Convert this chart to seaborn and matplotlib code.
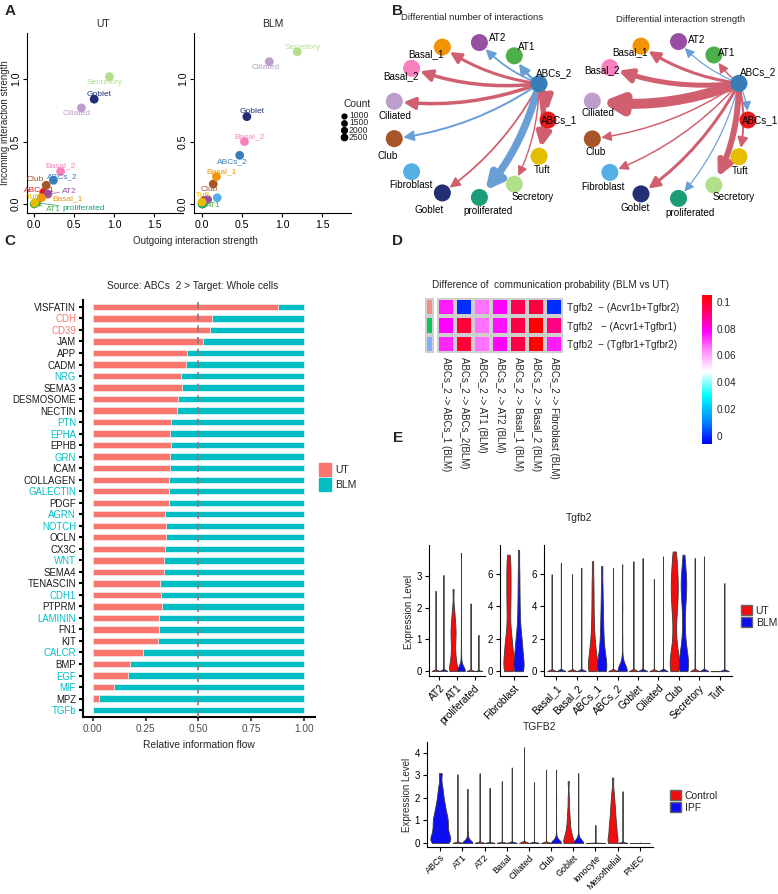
import numpy as np
import pandas as pd
import matplotlib
matplotlib.use("Agg")
import matplotlib.pyplot as plt
import seaborn as sns
from matplotlib.colors import LinearSegmentedColormap, ListedColormap
from matplotlib.patches import Patch, FancyArrowPatch

W, H = 778, 894
sns.set_style("ticks")
plt.rcParams["font.family"] = ["Liberation Sans", "DejaVu Sans"]

# ---------------- data ----------------
cell_types = ['ABCs_1', 'ABCs_2', 'AT1', 'AT2', 'Basal_1', 'Basal_2', 'Ciliated', 'Club',
              'Fibroblast', 'Goblet', 'proliferated', 'Secretory', 'Tuft']
cell_colors = ['#E41A1C', '#377EB8', '#4DAF4A', '#984EA3', '#F29403', '#F781BF', '#BC9DCC',
               '#A65628', '#54B0E4', '#222F75', '#1B9E77', '#B2DF8A', '#E3BE00']

# Panel A
ut_cells = ['AT1', 'proliferated', 'ABCs_1', 'AT2', 'Basal_1', 'Tuft', 'Club', 'ABCs_2',
            'Basal_2', 'Ciliated', 'Goblet', 'Secretory']
ut_outgoing = [0.0, 0.03, 0.12, 0.17, 0.09, 0.01, 0.15, 0.24, 0.33, 0.59, 0.75, 0.94]
ut_incoming = [0.0, 0.01, 0.09, 0.08, 0.05, 0.01, 0.15, 0.19, 0.26, 0.77, 0.84, 1.02]
blm_cells = ['AT1', 'proliferated', 'ABCs_1', 'AT2', 'Fibroblast', 'Tuft', 'Club', 'Basal_1',
             'ABCs_2', 'Basal_2', 'Goblet', 'Ciliated', 'Secretory']
blm_outgoing = [0.0, 0.01, 0.03, 0.07, 0.19, 0.0, 0.14, 0.18, 0.47, 0.53, 0.56, 0.84, 1.19]
blm_incoming = [0.0, 0.0, 0.03, 0.035, 0.05, 0.015, 0.16, 0.22, 0.39, 0.50, 0.70, 1.14, 1.22]

# Panel B (ABCs_2 -> each cell type; + increased in BLM, - decreased)
diff_count = [55, 0, -25, -18, 30, 35, 35, -20, 0, 18, -75, 14, 55]
diff_strength = [-0.012, 0, 0.015, -0.012, 0.03, 0.05, 0.10, 0.015, 0.015, 0.03, -0.012, 0.06, 0.02]
count_legend = ['1000', '1500', '2000', '2500']

# Panel C
pathways = ['VISFATIN', 'CDH', 'CD39', 'JAM', 'APP', 'CADM', 'NRG', 'SEMA3', 'DESMOSOME', 'NECTIN',
            'PTN', 'EPHA', 'EPHB', 'GRN', 'ICAM', 'COLLAGEN', 'GALECTIN', 'PDGF', 'AGRN', 'NOTCH',
            'OCLN', 'CX3C', 'WNT', 'SEMA4', 'TENASCIN', 'CDH1', 'PTPRM', 'LAMININ', 'FN1', 'KIT',
            'CALCR', 'BMP', 'EGF', 'MIF', 'MPZ', 'TGFb']
ut_flow = [0.877, 0.562, 0.554, 0.521, 0.447, 0.441, 0.416, 0.420, 0.403, 0.400,
           0.370, 0.365, 0.369, 0.367, 0.367, 0.361, 0.359, 0.362, 0.342, 0.346,
           0.346, 0.340, 0.335, 0.337, 0.318, 0.324, 0.326, 0.313, 0.313, 0.309,
           0.239, 0.178, 0.165, 0.099, 0.031, 0.0]
ut_enriched = ['CDH', 'CD39']
blm_enriched = ['NRG', 'PTN', 'EPHA', 'GRN', 'GALECTIN', 'AGRN', 'NOTCH', 'WNT', 'CDH1',
                'LAMININ', 'CALCR', 'EGF', 'MIF', 'TGFb']

# Panel D
lr_pairs = ['Tgfb2  \u2212 (Acvr1b+Tgfbr2)', 'Tgfb2   \u2212 (Acvr1+Tgfbr1)', 'Tgfb2  \u2212 (Tgfbr1+Tgfbr2)']
lr_groups = [0, 1, 2]
sr_pairs = ['ABCs_2 -> ABCs_1 (BLM)', 'ABCs_2 -> ABCs_2(BLM)', 'ABCs_2 -> AT1 (BLM)',
            'ABCs_2 -> AT2 (BLM)', 'ABCs_2 -> Basal_1 (BLM)', 'ABCs_2 -> Basal_2 (BLM)',
            'ABCs_2 -> Fibroblast (BLM)']
prob_row1 = [0.075, 0.0, 0.066, 0.078, 0.095, 0.097, 0.0]
prob_row2 = [0.078, 0.098, 0.066, 0.076, 0.096, 0.105, 0.090]
prob_row3 = [0.074, 0.098, 0.066, 0.078, 0.096, 0.105, 0.075]

# Panel E (mouse Tgfb2): zero-count + non-zero expression values per violin
e1_cell = ['AT2', 'AT2', 'AT1', 'AT1', 'proliferated', 'proliferated']
e1_cond = ['UT', 'BLM', 'UT', 'BLM', 'UT', 'BLM']
e1_zeros = [400, 400, 4, 40, 400, 400]
e1_values = [[0.8, 1.7, 2.55], [1.0, 2.1, 3.05],
             [0.05, 0.1, 0.2, 0.3, 0.4, 0.5, 0.6, 0.75, 0.9, 1.0, 1.1, 1.2, 1.3, 1.4, 1.5, 1.65, 1.8, 2.0, 2.6],
             [0.05, 0.1, 0.15, 0.2, 0.25, 0.3, 0.4, 0.5, 0.7, 0.9, 1.2, 1.6, 3.75],
             [0.7, 1.4, 2.15], [0.4, 0.8, 1.15]]
e2_cell = ['Fibroblast', 'Fibroblast']
e2_cond = ['UT', 'BLM']
e2_zeros = [3, 3]
e2_values = [[0.1, 0.2, 0.3, 0.5, 0.7, 0.9, 1.1, 1.3, 1.5, 1.7, 1.9, 2.1, 2.5, 3.0, 3.5, 4.0, 4.4, 4.8,
              5.2, 5.6, 6.0, 6.4, 6.8, 7.2],
             [0.1, 0.2, 0.3, 0.4, 0.6, 0.8, 1.0, 1.2, 1.4, 1.6, 1.8, 2.0, 2.3, 2.7, 3.2, 3.8, 4.5, 5.3, 6.2, 7.5]]
e3_order = ['Basal_1', 'Basal_2', 'ABCs_1', 'ABCs_2', 'Goblet', 'Ciliated', 'Club', 'Secretory', 'Tuft']
e3_cell = ['Basal_1', 'Basal_1', 'Basal_2', 'Basal_2', 'ABCs_1', 'ABCs_1', 'ABCs_2', 'ABCs_2',
           'Goblet', 'Goblet', 'Ciliated', 'Ciliated', 'Club', 'Club', 'Secretory', 'Secretory', 'Tuft', 'Tuft']
e3_cond = ['UT', 'BLM'] * 9
e3_zeros = [400, 400, 400, 400, 3, 3, 400, 20, 400, 400, 400, 400, 2, 3, 400, 400, 400, 400]
e3_values = [[2.0, 4.0, 6.0], [2.2, 4.5, 6.7], [2.0, 4.0, 6.0], [2.1, 4.3, 6.4],
             [0.1, 0.2, 0.4, 0.6, 0.8, 1.0, 1.2, 1.5, 1.8, 2.2, 2.7, 3.3, 4.0, 4.8, 5.6, 6.8],
             [0.1, 0.2, 0.4, 0.6, 0.8, 1.0, 1.3, 1.6, 2.0, 2.5, 3.0, 3.6, 4.3, 5.2, 6.5],
             [2.1, 4.3, 6.4],
             [0.05, 0.1, 0.15, 0.2, 0.25, 0.3, 0.4, 0.5, 0.7, 1.0, 2.0, 4.0, 6.6],
             [2.3, 4.5, 6.8], [2.3, 4.7, 7.0], [1.9, 3.8, 5.7], [2.4, 4.7, 7.1],
             [0.1, 0.3, 0.5, 0.7, 0.9, 1.2, 1.6, 2.2, 2.9, 3.5, 3.9, 4.3, 4.6, 4.9, 5.2, 5.5, 5.8, 6.1, 6.5, 7.0, 7.4],
             [0.1, 0.3, 0.5, 0.7, 0.9, 1.1, 1.4, 1.8, 2.4, 3.2, 3.9, 4.4, 4.8, 5.1, 5.4, 5.7, 6.0, 6.4, 7.2],
             [2.3, 4.7, 7.0], [2.4, 4.7, 7.1], [0.03], [1.8, 3.6, 5.45]]

# Panel E (human TGFB2)
e4_order = ['ABCs', 'AT1', 'AT2', 'Basal', 'Ciliated', 'Club', 'Goblet', 'Ionocyte', 'Mesothelial', 'PNEC']
e4_cell = ['AT1', 'AT1', 'AT2', 'AT2', 'Basal', 'Basal', 'Ciliated', 'Ciliated', 'Club', 'Club',
           'Goblet', 'Goblet', 'Mesothelial', 'Mesothelial']
e4_cond = ['Control', 'IPF'] * 7
e4_zeros = [400, 30, 400, 400, 400, 400, 400, 400, 400, 40, 5, 30, 3, 400]
e4_values = [[1.0, 2.0, 3.05], [0.05, 0.1, 0.15, 0.2, 0.25, 0.3, 0.4, 0.5, 0.8, 1.5, 2.4],
             [1.0, 2.1, 3.1], [0.8, 1.6, 2.45], [0.9, 1.8, 2.75], [1.1, 2.2, 3.35],
             [1.4, 2.8, 4.25], [0.9, 1.8, 2.7], [1.1, 2.2, 3.25],
             [0.05, 0.1, 0.15, 0.2, 0.3, 0.4, 1.0, 2.0, 3.25],
             [0.05, 0.1, 0.2, 0.3, 0.4, 0.5, 0.6, 0.8, 1.0, 1.2, 1.5, 2.0, 2.75],
             [0.05, 0.1, 0.15, 0.2, 0.3, 0.4, 0.8, 1.5, 3.1],
             [0.05, 0.1, 0.2, 0.3, 0.4, 0.5, 0.6, 0.7, 0.8, 0.9, 1.0, 1.15, 1.3, 1.45, 1.6, 1.8, 2.0, 2.3, 2.9],
             [0.8, 1.5, 2.3]]
e4s_cell = ['ABCs', 'Ionocyte', 'PNEC']
e4s_cond = ['IPF', 'Control', 'Control']
e4s_zeros = [2, 400, 400]
e4s_values = [[0.05, 0.1, 0.15, 0.2, 0.3, 0.4, 0.5, 0.6, 0.7, 0.8, 0.9, 1.0, 1.1, 1.2, 1.3, 1.45, 1.6,
               1.75, 1.95, 2.2, 2.5, 3.1],
              [0.4, 0.8], [0.02]]

# ---------------- figure ----------------
fig = plt.figure(figsize=(W / 100, H / 100), dpi=100)


def box(x0, y0, x1, y1, **kw):
    return fig.add_axes([x0 / W, 1 - y1 / H, (x1 - x0) / W, (y1 - y0) / H], **kw)


def style_axes(ax, lw=0.8, fs=7):
    sns.despine(ax=ax)
    for s in ['left', 'bottom']:
        ax.spines[s].set_linewidth(lw)
        ax.spines[s].set_color('black')
    ax.tick_params(length=3, width=lw, labelsize=fs, colors='black', pad=2)


color_of = dict(zip(cell_types, cell_colors))

# ---- Panel A ----
ut_offs = {'Secretory': (-5, 6), 'Goblet': (5, -5), 'Ciliated': (-5, 6), 'Basal_2': (0, -6),
           'ABCs_2': (9, -4), 'Club': (-11, -6), 'ABCs_1': (-4, -3), 'AT2': (22, -3),
           'Basal_1': (26, 1), 'Tuft': (-2, -5), 'AT1': (19, 5), 'proliferated': (47, 6)}
blm_offs = {'Secretory': (5, -4), 'Ciliated': (-4, 6), 'Goblet': (5, -5), 'Basal_2': (5, -5),
            'ABCs_2': (-7, 6), 'Basal_1': (5, -5), 'Club': (-4, 5), 'Tuft': (1, -7), 'AT1': (11, 1)}
axUT = box(27, 33, 183, 213)
axBLM = box(194, 33, 351, 213)
for ax, cells, xo, yi, offs, xlim in [(axUT, ut_cells, ut_outgoing, ut_incoming, ut_offs, (-0.09, 1.86)),
                                       (axBLM, blm_cells, blm_outgoing, blm_incoming, blm_offs, (-0.1, 1.86))]:
    sns.scatterplot(x=xo, y=yi, hue=cells, palette=color_of, s=40, edgecolor='none',
                    legend=False, ax=ax, zorder=3)
    ax.set_xlim(*xlim)
    ax.set_ylim(-0.072, 1.37)
    ax.set_xticks([0, 0.5, 1.0, 1.5])
    ax.set_xticklabels(['0.0', '0.5', '1.0', '1.5'])
    ax.set_yticks([0, 0.5, 1.0])
    ax.set_yticklabels(['0.0', '0.5', '1.0'], rotation=90, va='center')
    ax.set_xlabel('')
    ax.set_ylabel('')
    style_axes(ax, lw=0.8, fs=7.6)
    ax.tick_params(axis='y', pad=1.5)
    for c, x, y in zip(cells, xo, yi):
        if c in offs:
            dx, dy = offs[c]
            ap = dict(arrowstyle='-', color=color_of[c], lw=0.5, shrinkA=0, shrinkB=2) if abs(dx) > 15 else None
            ax.annotate(c, (x, y), xytext=(dx * 0.72, -dy * 0.72), textcoords='offset points',
                        ha='center', va='center', fontsize=6, color=color_of[c], arrowprops=ap, zorder=4)

# ---- Panel B ----
node_angle = 2 * np.pi * np.arange(len(cell_types)) / len(cell_types)
left_offs = [(11, 0), (15, -11), (12, -9), (18, -5), (-16, 7), (-11, 8), (1, 15), (-7, 17), (-1, 13),
             (-13, 17), (9, 14), (18, 13), (3, 14)]
right_offs = [(12, 0), (19, -11), (13, -2), (18, -2), (-11, 6), (-8, 3), (6, 12), (3, 13), (-7, 15),
              (-6, 14), (12, 15), (20, 12), (1, 14)]


def draw_net(ax, cx, cy, r, diff, scale, offs):
    xs = cx + r * np.cos(node_angle)
    ys = cy - r * np.sin(node_angle)
    src = cell_types.index('ABCs_2')
    for j, v in enumerate(diff):
        if j == src or v == 0:
            continue
        lw_px = abs(v) * scale
        col = '#D0606F' if v > 0 else '#6A9FD6'
        arr = FancyArrowPatch((xs[src], ys[src]), (xs[j], ys[j]),
                              arrowstyle='-|>,head_length=0.5,head_width=0.25',
                              connectionstyle='arc3,rad=-0.12', shrinkA=5, shrinkB=6.5,
                              mutation_scale=10 + lw_px * 1.1, lw=lw_px * 0.72,
                              color=col, zorder=1)
        ax.add_patch(arr)
    ax.scatter(xs, ys, s=150, c=cell_colors, zorder=3, edgecolors='none')
    for i, c in enumerate(cell_types):
        ax.text(xs[i] + offs[i][0], ys[i] + offs[i][1], c, ha='center', va='center',
                fontsize=7.1, color='black', zorder=4, clip_on=False)


axN1 = box(365, 22, 572, 226)
axN1.set_xlim(365, 572)
axN1.set_ylim(226, 22)
axN1.axis('off')
draw_net(axN1, 470, 120, 78, diff_count, 0.1, left_offs)
axN2 = box(572, 22, 778, 226)
axN2.set_xlim(572, 778)
axN2.set_ylim(226, 22)
axN2.axis('off')
draw_net(axN2, 669, 120, 79, diff_strength, 100, right_offs)

# ---- Panel C ----
axC = box(83, 300, 315, 717)
sns.barplot(x=[1.0] * len(pathways), y=pathways, color='#00BFC4', width=0.55, saturation=1,
            edgecolor='#DDF3F3', linewidth=0.6, errorbar=None, orient='h', ax=axC)
sns.barplot(x=ut_flow, y=pathways, color='#F8766D', width=0.55, saturation=1,
            edgecolor='#FBE3E1', linewidth=0.6, errorbar=None, orient='h', ax=axC)
axC.axvline(0.5, color='#7F7F7F', ls=(0, (4, 3)), lw=1.2, zorder=5)
axC.set_xlim(-0.047, 1.052)
axC.set_ylim(35.6, -0.6)
axC.set_xticks([0, 0.25, 0.5, 0.75, 1.0])
axC.set_xticklabels(['0.00', '0.25', '0.50', '0.75', '1.00'])
axC.set_xlabel('Relative information flow', fontsize=7.4, labelpad=4)
axC.set_ylabel('')
style_axes(axC, lw=1.5, fs=7)
axC.tick_params(axis='x', colors='#4D4D4D', labelsize=7.2)
axC.tick_params(axis='y', labelsize=6.9)
for lab in axC.get_yticklabels():
    t = lab.get_text()
    lab.set_color('#F8766D' if t in ut_enriched else ('#00BFC4' if t in blm_enriched else '#1A1A1A'))
axC.legend(handles=[Patch(color='#F8766D'), Patch(color='#00BFC4')], labels=['UT', 'BLM'],
           loc='upper left', bbox_to_anchor=(315 / W, 1 - 459 / H), bbox_transform=fig.transFigure,
           frameon=False, fontsize=7.5, handlelength=1.1, handleheight=1.5, labelspacing=0.25,
           handletextpad=0.4, borderaxespad=0)

# ---- Panel D ----
vmin, vmax = -0.006, 0.105
stops = [(-0.006, '#0000FF'), (0.012, '#0090FF'), (0.03, '#00FFFF'), (0.048, '#FFFFFF'),
         (0.064, '#FF88FF'), (0.078, '#FF00FF'), (0.095, '#FF0050'), (0.105, '#FF0000')]
cmap = LinearSegmentedColormap.from_list('diffprob', [((v - vmin) / (vmax - vmin), c) for v, c in stops])
axD = box(437, 298, 563, 353)
axCb = box(702, 295, 712, 444)
probs = pd.DataFrame([prob_row1, prob_row2, prob_row3], index=lr_pairs, columns=sr_pairs)
sns.heatmap(probs, ax=axD, cmap=cmap, vmin=vmin, vmax=vmax, cbar_ax=axCb,
            linewidths=1.5, linecolor='#CFCFCF', xticklabels=True, yticklabels=True)
axD.yaxis.tick_right()
axD.set_yticks(np.arange(len(lr_pairs)) + 0.5)
axD.set_yticklabels(lr_pairs, rotation=0, fontsize=7.2)
axD.set_xticks(np.arange(len(sr_pairs)) + 0.5)
axD.set_xticklabels(sr_pairs, rotation=270, fontsize=7, ha='center', va='top')
axD.tick_params(length=0, pad=3)
axCb.set_yticks([0, 0.02, 0.04, 0.06, 0.08, 0.1])
axCb.set_yticklabels(['0', '0.02', '0.04', '0.06', '0.08', '0.1'], fontsize=7.2)
axCb.tick_params(length=0, pad=3)
for s in axCb.spines.values():
    s.set_visible(False)
axAnn = box(425, 298, 434, 353)
sns.heatmap(np.array(lr_groups).reshape(-1, 1), ax=axAnn,
            cmap=ListedColormap(['#F28E86', '#0DC55A', '#80ADFF']), cbar=False,
            linewidths=1.5, linecolor='#CFCFCF', xticklabels=False, yticklabels=False)

# ---- Panel E ----
def expand(cells, conds, zeros, values):
    rows = []
    for c, g, n, vals in zip(cells, conds, zeros, values):
        for v in [0.0] * n + list(vals):
            rows.append((c, g, v))
    return pd.DataFrame(rows, columns=['cell', 'cond', 'expr'])


vkw = dict(inner=None, cut=0, density_norm='width', bw_adjust=0.5, linewidth=0.6,
           linecolor='#3A3A3A', saturation=1, legend=False)
mouse_pal = {'UT': '#F20D0D', 'BLM': '#0D0DF2'}
human_pal = {'Control': '#F20D0D', 'IPF': '#0D0DF2'}

axE1 = box(429, 545, 485, 676)
axE2 = box(500, 545, 527, 676)
axE3 = box(544, 545, 732, 676)
axE4 = box(427, 742, 653, 847)

sns.violinplot(data=expand(e1_cell, e1_cond, e1_zeros, e1_values), x='cell', y='expr', hue='cond',
               order=['AT2', 'AT1', 'proliferated'], hue_order=['UT', 'BLM'], palette=mouse_pal,
               width=0.9, ax=axE1, **vkw)
sns.violinplot(data=expand(e2_cell, e2_cond, e2_zeros, e2_values), x='cell', y='expr', hue='cond',
               order=['Fibroblast'], hue_order=['UT', 'BLM'], palette=mouse_pal, width=0.9, ax=axE2, **vkw)
sns.violinplot(data=expand(e3_cell, e3_cond, e3_zeros, e3_values), x='cell', y='expr', hue='cond',
               order=e3_order, hue_order=['UT', 'BLM'], palette=mouse_pal, width=0.9, ax=axE3, **vkw)
sns.violinplot(data=expand(e4_cell, e4_cond, e4_zeros, e4_values), x='cell', y='expr', hue='cond',
               order=e4_order, hue_order=['Control', 'IPF'], palette=human_pal, width=0.9, ax=axE4, **vkw)
sns.violinplot(data=expand(e4s_cell, e4s_cond, e4s_zeros, e4s_values), x='cell', y='expr', hue='cond',
               order=e4_order, hue_order=['Control', 'IPF'], palette=human_pal, width=0.9, dodge=False,
               ax=axE4, **vkw)

axE1.set_xlim(-0.6, 2.6)
axE1.set_ylim(-0.16, 4.0)
axE1.set_yticks([0, 1, 2, 3])
axE2.set_xlim(-0.6, 0.6)
axE2.set_ylim(-0.3, 7.8)
axE2.set_yticks([0, 2, 4, 6])
axE3.set_xlim(-0.6, 8.6)
axE3.set_ylim(-0.3, 7.8)
axE3.set_yticks([0, 2, 4, 6])
axE4.set_xlim(-0.6, 9.6)
axE4.set_ylim(-0.18, 4.48)
axE4.set_yticks([0, 1, 2, 3, 4])
for ax, fs in [(axE1, 7.3), (axE2, 7.3), (axE3, 7.3), (axE4, 6.5)]:
    ax.set_xlabel('')
    ax.set_ylabel('')
    style_axes(ax, lw=0.8, fs=7)
    for lab in ax.get_xticklabels():
        lab.set_rotation(45)
        lab.set_ha('right')
        lab.set_rotation_mode('anchor')
        lab.set_fontsize(fs)
axE4.tick_params(axis='x', pad=1.5)

fig.legend(handles=[Patch(fc='#F20D0D', ec='#666666'), Patch(fc='#0D0DF2', ec='#666666')],
           labels=['UT', 'BLM'], loc='upper left', bbox_to_anchor=(737 / W, 1 - 601 / H),
           frameon=False, fontsize=7.5, handlelength=1.0, handleheight=1.1, labelspacing=0.15,
           handletextpad=0.4, borderaxespad=0)
fig.legend(handles=[Patch(fc='#F20D0D', ec='#666666'), Patch(fc='#0D0DF2', ec='#666666')],
           labels=['Control', 'IPF'], loc='upper left', bbox_to_anchor=(666 / W, 1 - 786 / H),
           frameon=False, fontsize=7.5, handlelength=1.0, handleheight=1.1, labelspacing=0.15,
           handletextpad=0.4, borderaxespad=0)

# ---- overlay texts ----
ov = fig.add_axes([0, 0, 1, 1], zorder=10)
ov.set_xlim(0, W)
ov.set_ylim(H, 0)
ov.axis('off')
ov.patch.set_alpha(0)
for lab, x, y in [('A', 10, 11), ('B', 398, 11), ('C', 10, 241), ('D', 398, 241), ('E', 398, 438)]:
    ov.text(x, y, lab, fontsize=11, fontweight='bold', ha='center', va='center')
ov.text(103, 24, 'UT', fontsize=7.5, ha='center', va='center')
ov.text(273, 24, 'BLM', fontsize=7.5, ha='center', va='center')
ov.text(195, 241, 'Outgoing interaction strength', fontsize=7, ha='center', va='center')
ov.text(5, 123, 'Incoming interaction strength', fontsize=7, rotation=90, ha='center', va='center')
ov.text(472, 18, 'Differential number of interactions', fontsize=6.8, ha='center', va='center')
ov.text(681, 19, 'Differential interaction strength', fontsize=6.8, ha='center', va='center')
ov.text(357, 104, 'Count', fontsize=7.4, ha='center', va='center')
for k, t in enumerate(count_legend):
    ov.scatter([344], [115.5 + 7.3 * k], s=12 + 3 * k, color='black')
    ov.text(349, 115.5 + 7.3 * k, t, fontsize=6.2, ha='left', va='center')
ov.text(193, 286, 'Source: ABCs  2 > Target: Whole cells', fontsize=7.3, ha='center', va='center')
ov.text(432, 285, 'Difference of  communication probability (BLM vs UT)', fontsize=7.2,
        ha='left', va='center')
ov.text(579, 518, 'Tgfb2', fontsize=7.5, ha='center', va='center')
ov.text(540, 727, 'TGFB2', fontsize=7.5, ha='center', va='center')
ov.text(409, 612, 'Expression Level', fontsize=7, rotation=90, ha='center', va='center')
ov.text(407, 795, 'Expression Level', fontsize=7, rotation=90, ha='center', va='center')

fig.savefig('out.png', dpi=100)
